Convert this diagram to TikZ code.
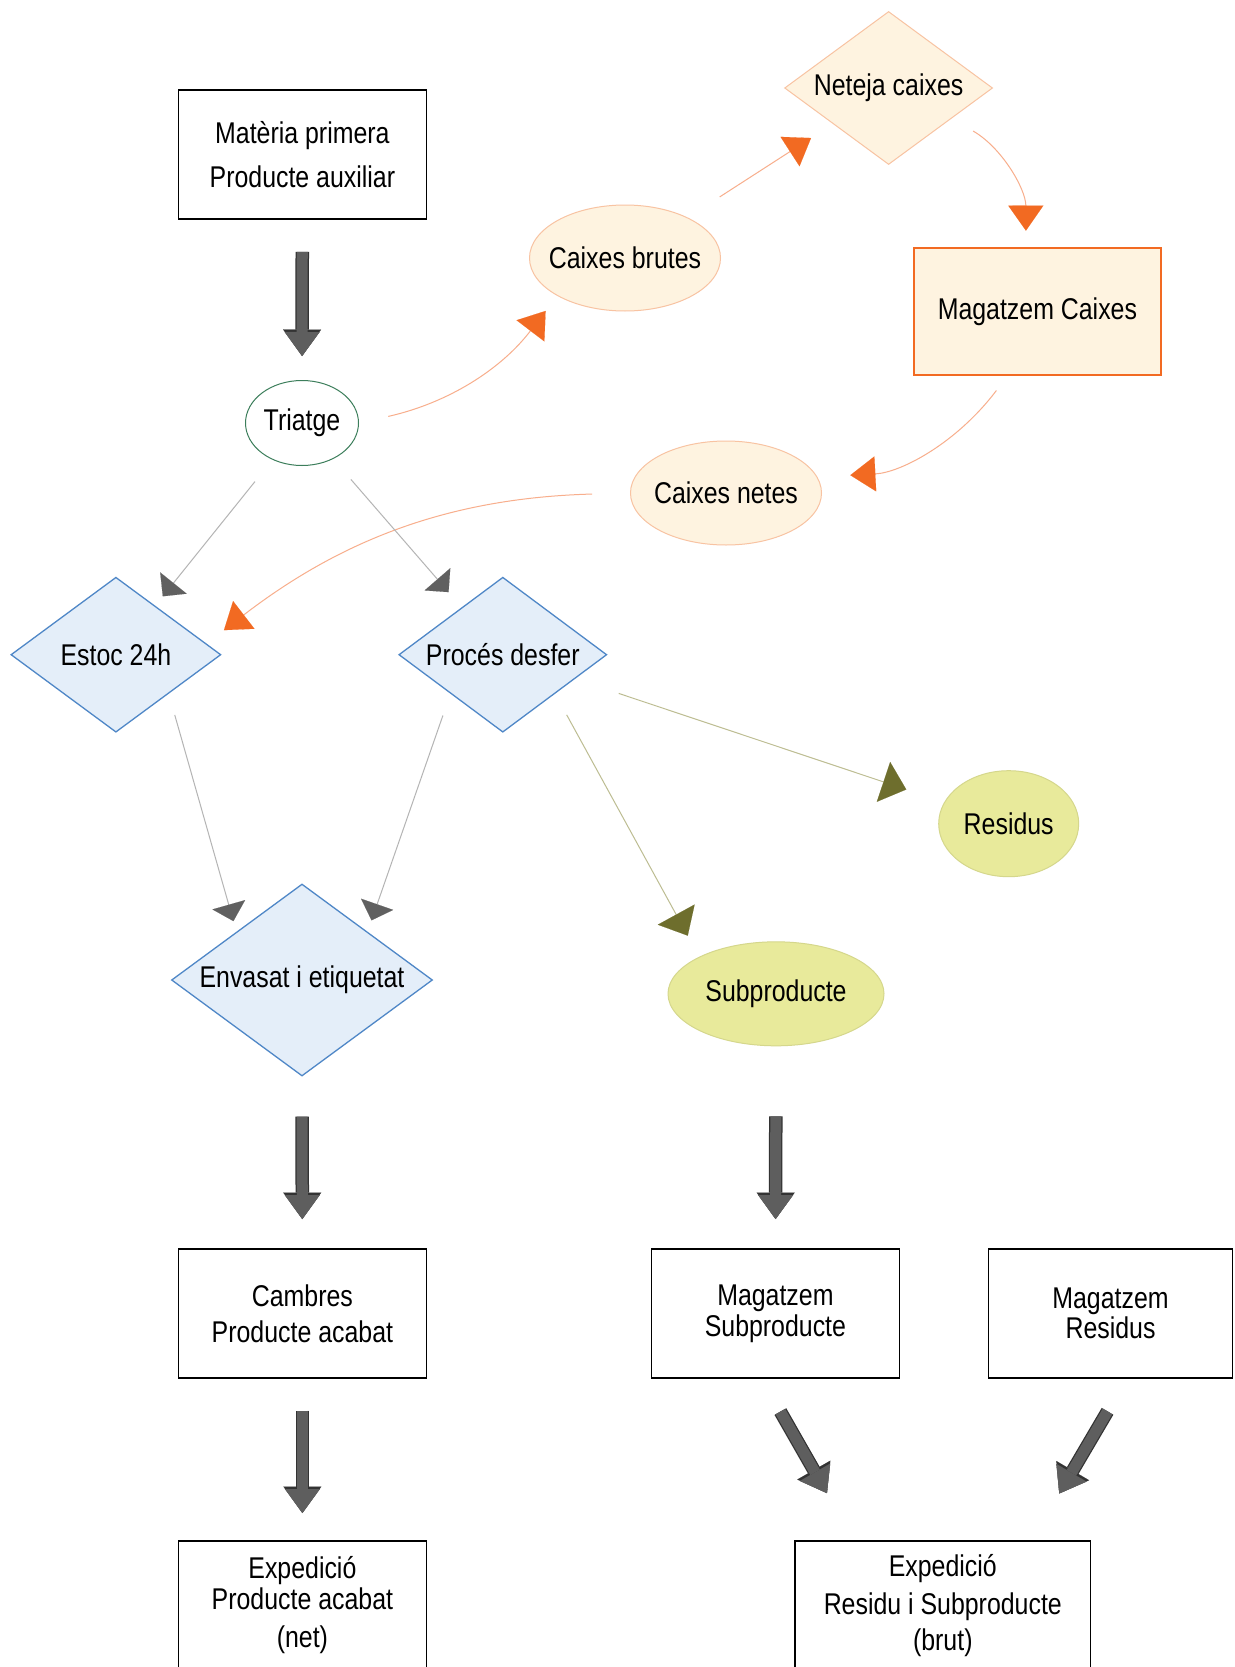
\documentclass[tikz,border=0pt]{standalone}
\usepackage{fontspec}
\setmainfont{Liberation Sans}[FakeStretch=0.83]
\usepackage{xcolor}
\usetikzlibrary{shapes.geometric,arrows.meta,calc}
\definecolor{diamblue}{HTML}{E4EEF9}
\definecolor{diamedge}{HTML}{4F87C7}
\definecolor{cream}{HTML}{FEF3E0}
\definecolor{creamedge}{HTML}{F8C3A2}
\definecolor{boxorange}{HTML}{F26A22}
\definecolor{lineorange}{HTML}{F8AE8C}
\definecolor{yellowfill}{HTML}{E8EA9B}
\definecolor{yellowedge}{HTML}{D5D78C}
\definecolor{triatgegreen}{HTML}{3C7E5B}
\definecolor{linegray}{HTML}{B4B4B4}
\definecolor{tipgray}{HTML}{606060}
\definecolor{lineolive}{HTML}{BDBD92}
\definecolor{tipolive}{HTML}{6E6E2D}
\definecolor{fatgray}{HTML}{5E5E5E}

\begin{document}
\begin{tikzpicture}[x=1pt,y=-1pt]
        % Definició dels estils
        \tikzset{
            every node/.style={font=\fontsize{30}{34}\selectfont, align=center},
            block/.style={rectangle, draw=black, line width=1.5pt, fill=white,
                         minimum width=248pt, minimum height=129pt},
            diam/.style={diamond, aspect=1.35, draw=diamedge, line width=1.3pt, fill=diamblue,
                         inner sep=0pt, inner xsep=-10pt},
            oval/.style={ellipse, line width=1pt, inner sep=0pt, inner xsep=-14pt},
            orangearrow/.style={draw=lineorange, line width=1pt,
                         -{Triangle[length=25pt,width=35pt,line width=0.1pt,color=boxorange]}},
            grayarrow/.style={draw=linegray, line width=1pt,
                         -{Triangle[length=17pt,width=34pt,line width=0.1pt,color=tipgray]}},
            olivearrow/.style={draw=lineolive, line width=1pt,
                         -{Triangle[length=24pt,width=42pt,line width=0.1pt,color=tipolive]}},
            fatarrow/.style={
                preaction={draw=black!80, line width=13.5pt,
                           -{Triangle[length=26.5pt,width=38pt,line width=0.1pt]}},
                draw=fatgray, line width=11pt,
                -{Triangle[length=24pt,width=35pt,line width=0.1pt]}}
        }
        \path[use as bounding box, fill=white] (0,0) rectangle (1234,1667);

        % Nodes
        \node[block] (mat) at (302.4,154.7) {Matèria primera\\[10pt]Producte auxiliar};
        \node[oval, draw=triatgegreen, fill=white, minimum width=113pt, minimum height=85pt] (triatge) at (302,423) {Triatge};
        \node[oval, draw=creamedge, fill=cream, minimum width=191pt, minimum height=106pt] (brutes) at (625,258) {Caixes brutes};
        \node[diam, aspect=1.36, draw=creamedge, fill=cream, line width=1pt,
              minimum width=208pt, minimum height=153pt] (neteja) at (888.6,88) {Neteja caixes};
        \node[block, draw=boxorange, fill=cream, line width=2pt, minimum width=246.6pt,
              minimum height=127.5pt] (magcaixes) at (1037.4,311.4) {Magatzem Caixes};
        \node[oval, draw=creamedge, fill=cream, minimum width=191pt, minimum height=104pt] (netes) at (726,493) {Caixes netes};
        \node[diam, minimum width=210pt, minimum height=155pt] (estoc) at (115.9,654.7) {Estoc 24h};
        \node[diam, minimum width=208pt, minimum height=155pt] (proces) at (502.8,654.7) {Procés desfer};
        \node[oval, draw=yellowedge, fill=yellowfill, minimum width=140pt, minimum height=106pt] (residus) at (1008.7,823.7) {Residus};
        \node[oval, draw=yellowedge, fill=yellowfill, minimum width=216pt, minimum height=104pt] (subproducte) at (776,993.8) {Subproducte};
        \node[diam, aspect=1.36, minimum width=261pt, minimum height=192pt] (envasat) at (302,980) {Envasat i etiquetat};
        \node[block] (cambres) at (302.4,1313.3) {Cambres\\[2pt]Producte acabat};
        \node[block] (magsub) at (775.4,1313.3) {Magatzem\\[-3pt]Subproducte};
        \node[block, minimum width=244pt] (magres) at (1110.5,1313.3) {Magatzem\\[-4pt]Residus};
        \node[block, anchor=north] (expnet) at (302.4,1540) {Expedició\\[-3pt]Producte acabat\\[4pt](net)};
        \node[block, anchor=north, minimum width=295.5pt] (expbrut) at (942.8,1540) {Expedició\\[4pt]Residu i Subproducte\\[2pt](brut)};

        % Connexions
        \draw[fatarrow, shorten <=32pt, shorten >=24pt] (mat) -- (triatge);
        \draw[orangearrow, shorten <=30pt, shorten >=19pt] (triatge.east) to[bend right=20] (brutes.south west);
        \draw[orangearrow, shorten <=38pt, shorten >=26pt] (brutes) -- (neteja);
        \draw[orangearrow, shorten <=25pt, shorten >=16pt] (neteja.-26) to[bend left=30] (magcaixes.100);
        \draw[orangearrow, shorten <=18pt, shorten >=33pt] (magcaixes.-115) to[bend left=25] (netes.10);
        \draw[orangearrow, shorten <=38pt, shorten >=22pt] (netes.west) to[bend right=18] (estoc.7);
        \draw[grayarrow, shorten <=28pt, shorten >=12pt] (triatge) -- (estoc);
        \draw[grayarrow, shorten <=27pt, shorten >=20pt] (triatge) -- (proces);
        \draw[grayarrow, shorten <=22pt, shorten >=11pt] (estoc.south east) -- (envasat.north west);
        \draw[grayarrow, shorten <=23pt, shorten >=12pt] (proces.south west) -- (envasat.north east);
        \draw[olivearrow, shorten <=46pt, shorten >=40pt] (proces) -- (residus);
        \draw[olivearrow, shorten <=24pt, shorten >=24pt] (proces.south east) -- (subproducte.north west);
        \draw[fatarrow, shorten <=40pt, shorten >=29pt] (envasat) -- (cambres);
        \draw[fatarrow, shorten <=32pt, shorten >=27pt] (cambres) -- (expnet);
        \draw[fatarrow, shorten <=70pt, shorten >=29pt] (subproducte) -- (magsub);
        \draw[fatarrow, shorten <=38pt, shorten >=54pt] (magsub.-102) -- ($(expbrut.north west)!0.2!(expbrut.north east)$);
        \draw[fatarrow, shorten <=38pt, shorten >=54pt] (magres.-76) -- ($(expbrut.north west)!0.8!(expbrut.north east)$);
    \end{tikzpicture}
\end{document}
